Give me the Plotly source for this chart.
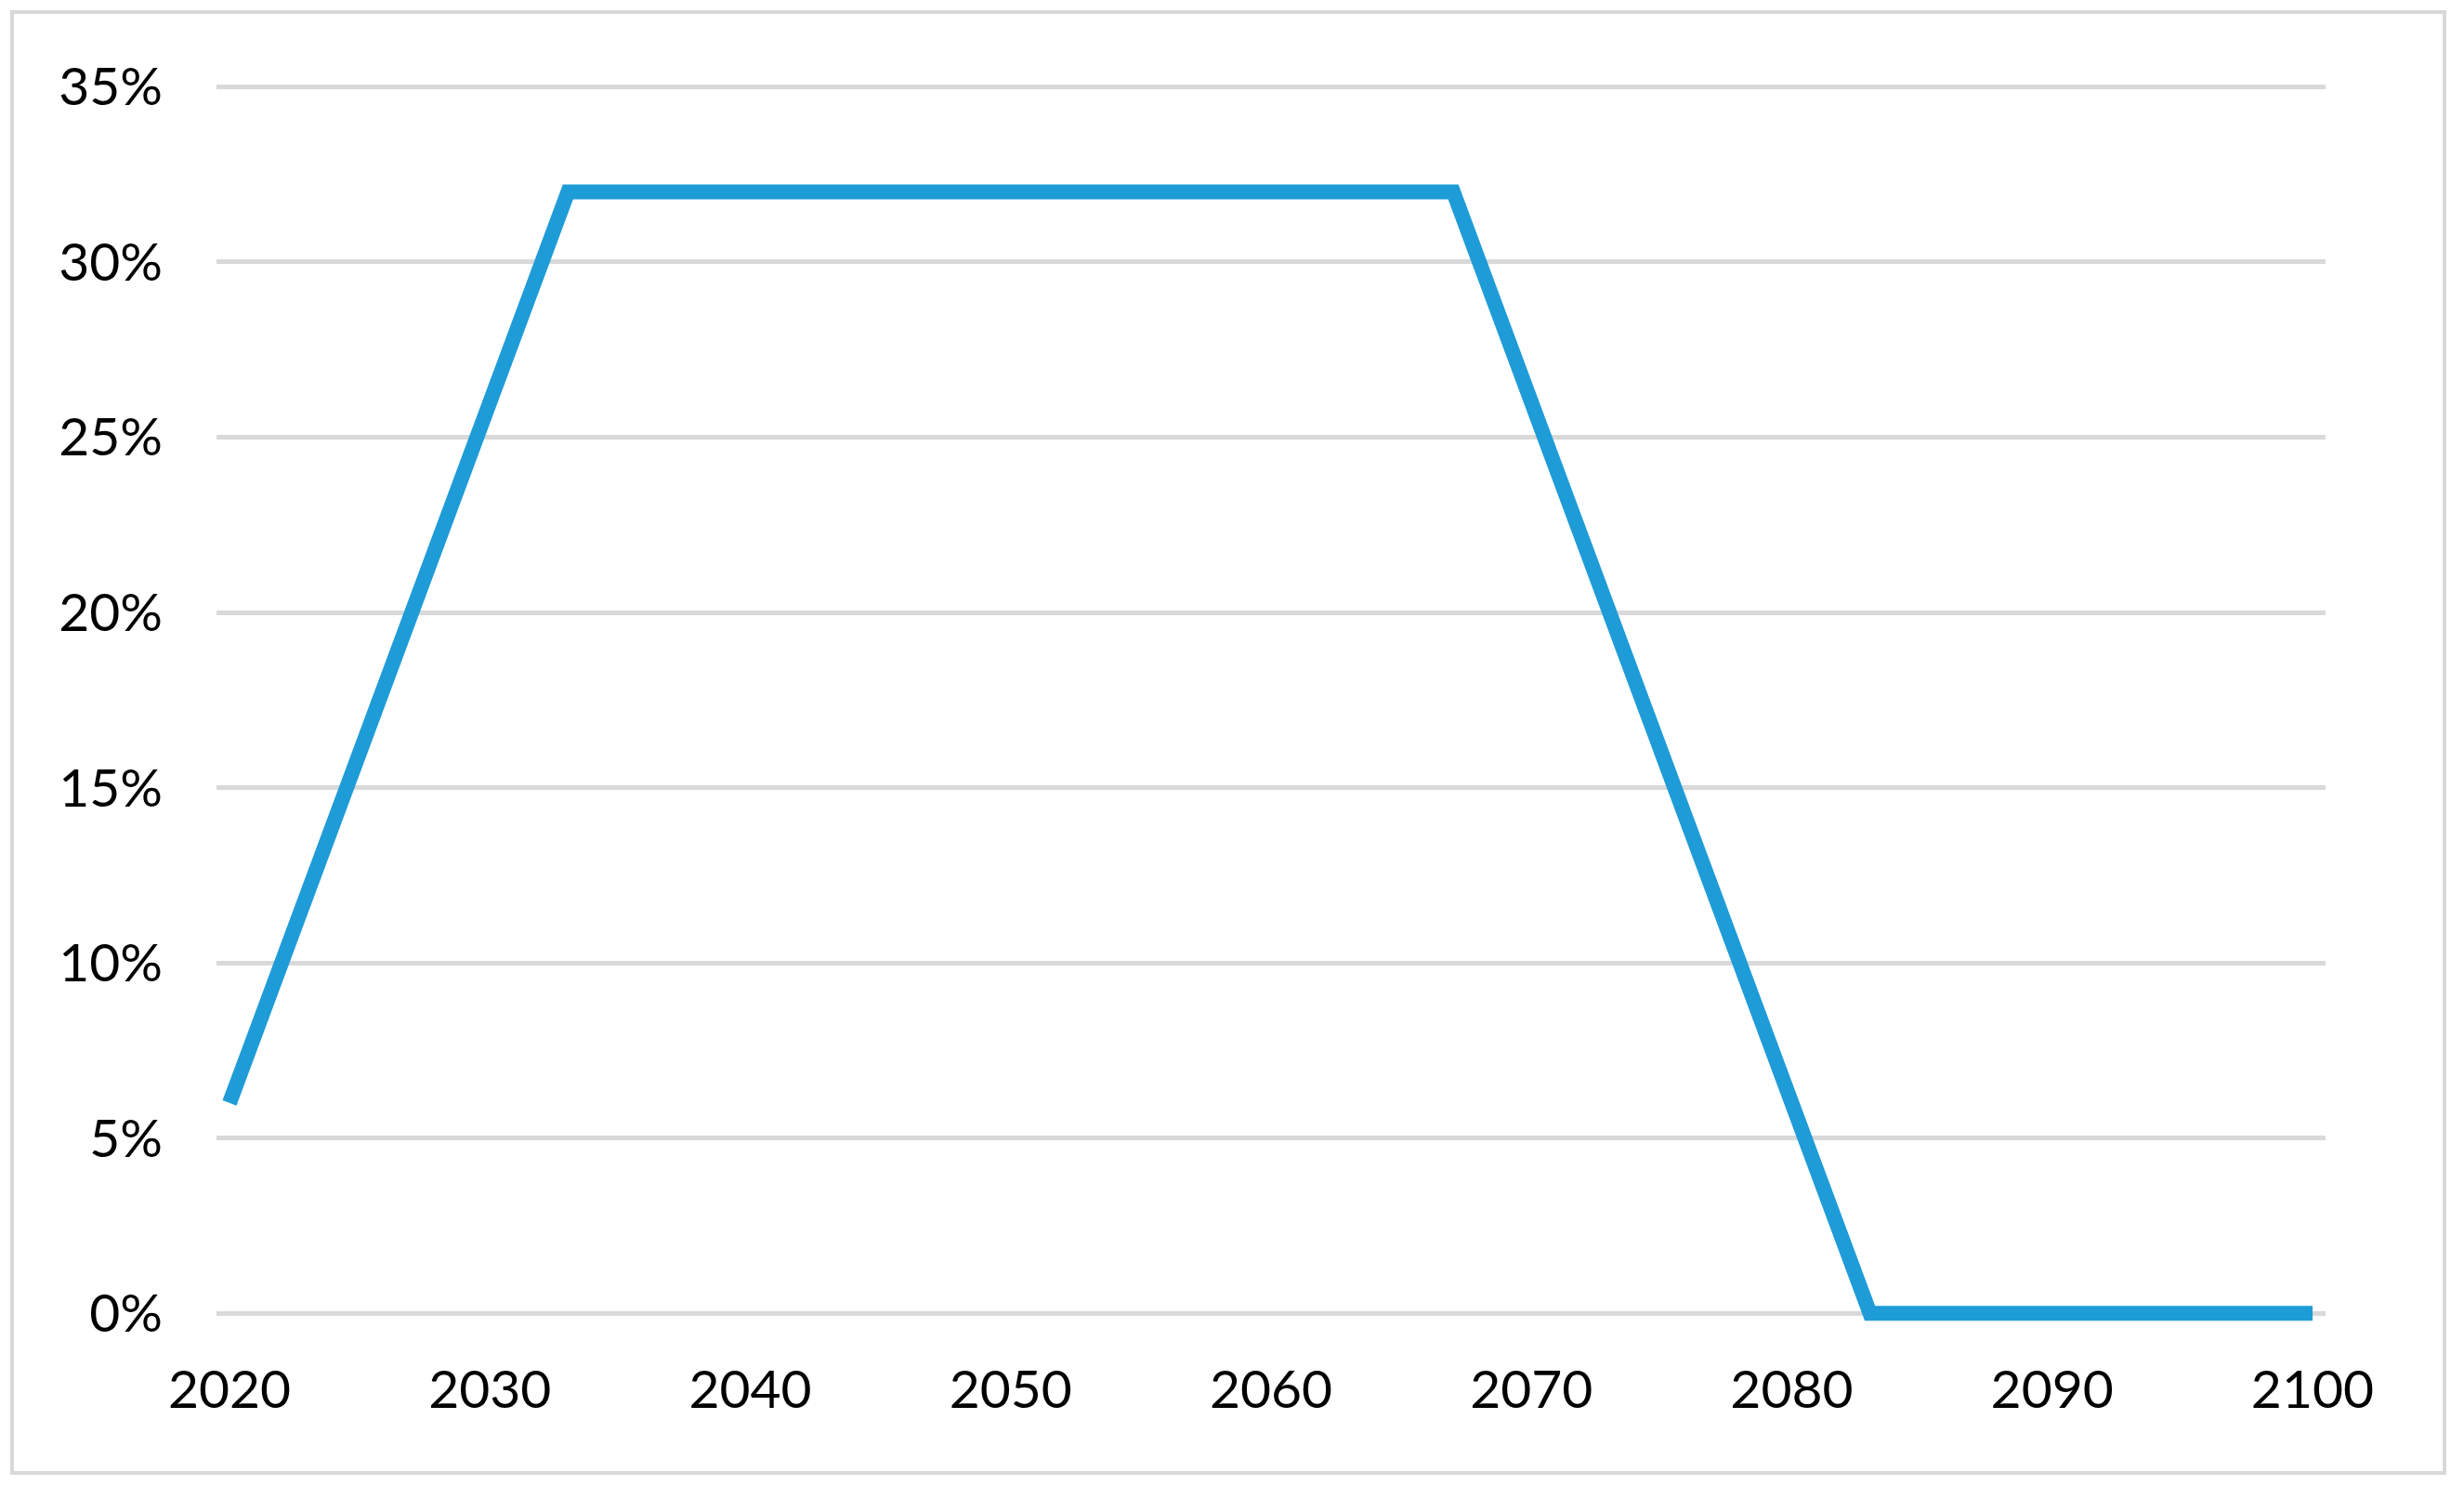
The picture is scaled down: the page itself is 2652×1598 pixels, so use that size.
import plotly.graph_objects as go

years = [2020, 2033, 2067, 2083, 2100]
share = [0.06, 0.32, 0.32, 0.0, 0.0]
x_ticks = [2020, 2030, 2040, 2050, 2060, 2070, 2080, 2090, 2100]
y_ticks = [0, 0.05, 0.10, 0.15, 0.20, 0.25, 0.30, 0.35]

# page body has an 8px default margin, so the figure is sized/offset to fit
W, H = 2644, 1590
L, R, T, B = 225, 149, 76, 166
pw, ph = W - L - R, H - T - B

fig = go.Figure()
fig.add_trace(go.Scatter(
    x=years, y=share, mode="lines",
    line=dict(color="#1E9CD7", width=16),
    hoverinfo="skip", showlegend=False,
))

font = dict(family="Lato, Carlito, Calibri, sans-serif", size=57, color="#000000")

bx0, bx1, by0, by1 = 5, 2623, 5, 1577  # outer chart border in figure px

fig.update_layout(
    width=W, height=H,
    margin=dict(l=L, r=R, t=T, b=B, pad=0),
    paper_bgcolor="white", plot_bgcolor="white",
    font=font,
    xaxis=dict(
        range=[2019.5, 2100.5], tickvals=x_ticks, showgrid=False,
        zeroline=False, showline=False, ticks="", tickfont=font,
        ticklabelstandoff=25,
    ),
    yaxis=dict(
        range=[-0.005, 0.3525], tickvals=y_ticks, tickformat=".0%",
        showgrid=True, gridcolor="#D9D9D9", gridwidth=5,
        zeroline=True, zerolinecolor="#D9D9D9", zerolinewidth=5,
        showline=False, ticks="", tickfont=font, ticklabelstandoff=57,
    ),
    shapes=[dict(
        type="rect", xref="paper", yref="paper",
        x0=(bx0 - L) / pw, x1=(bx1 - L) / pw,
        y0=(H - B - by1) / ph, y1=(H - B - by0) / ph,
        line=dict(color="#D9D9D9", width=4), fillcolor="rgba(0,0,0,0)",
        layer="below",
    )],
)

fig.write_html("out.html")
